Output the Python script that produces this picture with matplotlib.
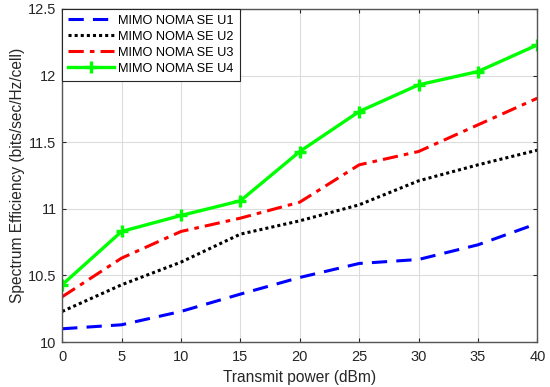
import matplotlib
matplotlib.use("Agg")
import matplotlib.pyplot as plt

plt.rcParams['font.family'] = ['Liberation Sans', 'DejaVu Sans']

power = [0, 5, 10, 15, 20, 25, 30, 35, 40]
se_u1 = [10.10, 10.13, 10.23, 10.36, 10.485, 10.59, 10.62, 10.73, 10.89]
se_u2 = [10.23, 10.43, 10.60, 10.81, 10.91, 11.03, 11.21, 11.33, 11.44]
se_u3 = [10.34, 10.63, 10.83, 10.93, 11.05, 11.33, 11.43, 11.63, 11.83]
se_u4 = [10.43, 10.83, 10.95, 11.06, 11.43, 11.73, 11.93, 12.03, 12.23]
labels = ['MIMO NOMA SE U1', 'MIMO NOMA SE U2', 'MIMO NOMA SE U3', 'MIMO NOMA SE U4']

fig = plt.figure(figsize=(5.5, 3.87), dpi=100)
ax = fig.add_axes([0.113, 0.116, 0.864, 0.861])

ax.plot(power, se_u1, color='#0000ff', lw=2.2, ls=(0, (5, 3)), label=labels[0])
ax.plot(power, se_u2, color='black', lw=2.2, ls=(0, (1, 1)), label=labels[1])
ax.plot(power, se_u3, color='#ff0000', lw=2.2, ls=(0, (5, 2, 1.5, 2)), label=labels[2])
ax.plot(power, se_u4, color='#00ff00', lw=2.4, marker='+', ms=8, mew=2.4, label=labels[3])

ax.set_xlim(0, 40)
ax.set_ylim(10, 12.5)
ax.set_xticks(power)
ax.set_yticks([10, 10.5, 11, 11.5, 12, 12.5])
ax.set_yticklabels(['10', '10.5', '11', '11.5', '12', '12.5'])
ax.grid(True, color='#dcdcdc', lw=0.8)
ax.set_axisbelow(True)
ax.tick_params(direction='in', top=True, right=True, labelsize=10.5, colors='#262626', length=3)
ax.tick_params(axis='x', pad=6)
ax.tick_params(axis='y', pad=4)
for s in ax.spines.values():
    s.set_color('#555555')
    s.set_linewidth(1.0)

ax.set_xlabel('Transmit power (dBm)', fontsize=11.2, color='#262626', labelpad=4)
ax.set_ylabel('Spectrum Efficiency (bits/sec/Hz/cell)', fontsize=11.2, color='#262626', labelpad=2)

leg = ax.legend(loc='upper left', fontsize=9.2, handlelength=3.6, borderaxespad=0,
                fancybox=False, framealpha=1, edgecolor='#262626',
                borderpad=0.45, labelspacing=0.32, handletextpad=0.35)
leg.get_frame().set_linewidth(0.8)

fig.savefig('out.png', dpi=100)
